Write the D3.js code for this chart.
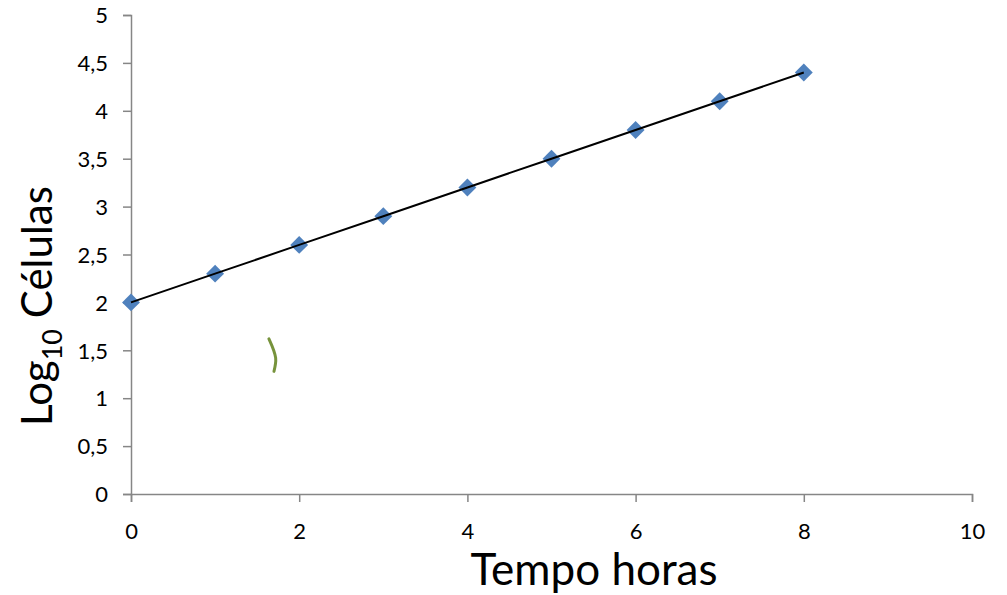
<!DOCTYPE html>
<html>
<head>
<meta charset="utf-8">
<script src="https://cdn.jsdelivr.net/npm/d3@7"></script>
<style>
  body { margin: 0; background: #fff; }
  text { font-family: Lato, "Open Sans", sans-serif; fill: #000; }
  .tick text { font-size: 22px; }
</style>
</head>
<body>
<div id="chart"></div>
<script>
// Data
const hours = [0, 1, 2, 3, 4, 5, 6, 7, 8];
const logCells = [2, 2.3, 2.6, 2.9, 3.2, 3.5, 3.8, 4.1, 4.4];
const xTicks = [0, 2, 4, 6, 8, 10];
const yTicks = [0, 0.5, 1, 1.5, 2, 2.5, 3, 3.5, 4, 4.5, 5];
// stray green stroke near x=1.7
const strayX = [1.64, 1.72, 1.70];
const strayY = [1.62, 1.42, 1.28];

const width = 1007, height = 595;
const margin = {top: 15, right: 35, bottom: 101, left: 131};

const svg = d3.select("#chart")
              .append("svg")
              .attr("width", width)
              .attr("height", height);

const x = d3.scaleLinear().domain([0, 10]).range([margin.left, width - margin.right]);
const y = d3.scaleLinear().domain([0, 5]).range([height - margin.bottom, margin.top]);

const fmt = d => String(d).replace(".", ",");

// X axis
const xAxis = svg.append("g")
   .attr("transform", `translate(0,${y(0)})`)
   .call(d3.axisBottom(x).tickValues(xTicks).tickFormat(fmt).tickSize(8).tickPadding(21));

// Y axis
const yAxis = svg.append("g")
   .attr("transform", `translate(${x(0)},0)`)
   .call(d3.axisLeft(y).tickValues(yTicks).tickFormat(fmt).tickSize(8).tickPadding(15));

[xAxis, yAxis].forEach(a => {
  a.attr("font-size", null).attr("font-family", null);
  a.select(".domain").attr("stroke", "#868686").attr("stroke-width", 1.5);
  a.selectAll(".tick line").attr("stroke", "#868686").attr("stroke-width", 1.5);
  a.selectAll(".tick text").attr("fill", "#000");
});
yAxis.selectAll(".tick text").attr("dy", "0.35em");

// Trend line
const line = d3.line().x((d, i) => x(hours[i])).y(d => y(d));

// Markers
svg.append("g")
   .selectAll("path")
   .data(logCells)
   .enter()
   .append("path")
   .attr("d", d3.symbol().type(d3.symbolSquare).size(160))
   .attr("transform", (d, i) => `translate(${x(hours[i])},${y(d)}) rotate(45)`)
   .attr("fill", "#4F81BD");

// line sits on top of the markers
svg.append("path")
   .datum(logCells)
   .attr("d", line)
   .attr("fill", "none")
   .attr("stroke", "#000")
   .attr("stroke-width", 2);

// Stray green stroke
svg.append("path")
   .datum(strayY)
   .attr("d", d3.line().x((d, i) => x(strayX[i])).y(d => y(d)).curve(d3.curveCatmullRom))
   .attr("fill", "none")
   .attr("stroke", "#77933C")
   .attr("stroke-width", 3)
   .attr("stroke-linecap", "round");

// Axis titles
svg.append("text")
   .attr("x", 594)
   .attr("y", 585)
   .attr("text-anchor", "middle")
   .style("font-size", "44px")
   .text("Tempo horas");

const yt = svg.append("text")
   .attr("transform", `translate(52,306) rotate(-90)`)
   .attr("text-anchor", "middle")
   .style("font-size", "42px");
yt.append("tspan").text("Log");
yt.append("tspan").attr("dy", 10).style("font-size", "27px").text("10");
yt.append("tspan").attr("dy", -10).text(" Células");
</script>
</body>
</html>
